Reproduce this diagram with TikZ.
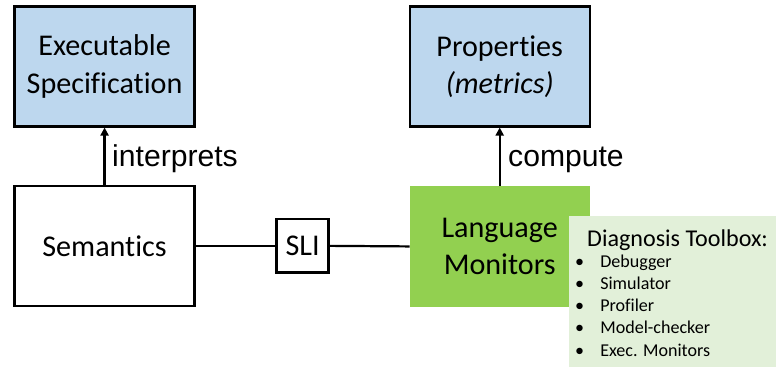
\documentclass[tikz,border=0pt]{standalone}
\usepackage{fontspec}
\setmainfont{Carlito}[Ligatures=NoCommon]
\newfontfamily\arialfont{Liberation Sans}
\usepackage{tikz}
\usetikzlibrary{arrows.meta}
\definecolor{sbox}{HTML}{BDD7EE}
\definecolor{mgreen}{HTML}{92D050}
\definecolor{tgreen}{HTML}{E2F0D9}

\begin{document}
\begin{tikzpicture}[>={Triangle[length=8pt,width=8pt]},
    big/.style={font=\fontsize{30}{37}\selectfont, align=center},
    bluebox/.style={big, draw, line width=2.2pt, fill=sbox, minimum width=6.3cm, minimum height=4.2cm},
    whitebox/.style={big, draw, line width=2.2pt, fill=white},
    lbl/.style={font=\arialfont\fontsize{30}{35}\selectfont, inner sep=0pt, anchor=base west},
    tool/.style={font=\fontsize{18}{21}\selectfont, inner sep=0pt, anchor=base west}]
    \useasboundingbox (0, 0) rectangle (27.16, 12.845);
        \node[bluebox] (spec) at (3.66, 10.52) {Executable\\Specification};
        \node[bluebox] (props) at (17.49, 10.52) {Properties\\\textit{(metrics)}};
        \node[whitebox, minimum width=6.3cm, minimum height=4.2cm] (sem) at (3.66, 4.24) {Semantics};
        \node[whitebox, minimum width=1.82cm, minimum height=1.86cm, inner sep=0pt] (sli) at (10.59, 4.24) {SLI};
        \node[big, fill=mgreen, minimum width=6.3cm, minimum height=4.235cm] (lm) at (17.49, 4.22) {Language\\Monitors};
        \draw[->, line width=2.2pt] (sem) -- (spec);
        \draw[->, line width=2.2pt] (lm) -- (props);
        \draw[line width=2.2pt] (sem.east) -- (sli.west);
        \draw[line width=2.2pt] (sli.east) -- (lm.west);
        \node[lbl] (interp) at (3.92, 7.0) {interprets};
        \node[lbl] (comp) at (17.78, 7.0) {compute};
        \node[fill=tgreen, minimum width=7.245cm, minimum height=5.285cm] (toolbox) at (23.54, 2.64) {};
        \node[tool, font=\fontsize{24}{29}\selectfont] (tbtitle) at (20.545, 4.2) {Diagnosis Toolbox:};
        \foreach \name [count=\i from 0] in {Debugger, Simulator, Profiler, Model-checker, Exec. Monitors}
            \node[tool] (item\i) at (20.125, 3.465 - 0.77*\i) {\makebox[25pt][l]{\textbullet}\name};
    \end{tikzpicture}
\end{document}
